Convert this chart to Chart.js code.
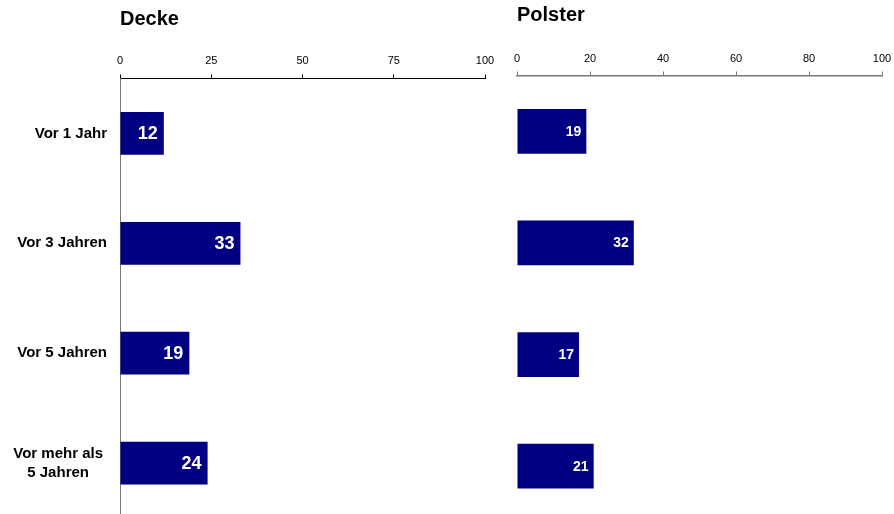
<!DOCTYPE html>
<html>
<head>
<meta charset="utf-8">
<script src="https://cdn.jsdelivr.net/npm/chart.js@4/dist/chart.umd.min.js"></script>
<style>
  html, body { margin: 0; padding: 0; background: #fff; overflow: hidden; }
  body { width: 894px; height: 514px; position: relative; }
  canvas { position: absolute; top: 0; }
  #decke { left: 0; }
  #polster { left: 500px; }
</style>
</head>
<body>
<canvas id="decke" width="500" height="518"></canvas>
<canvas id="polster" width="394" height="522"></canvas>
<script>
// data
var categories = ["Vor 1 Jahr", "Vor 3 Jahren", "Vor 5 Jahren", ["Vor mehr als", "5 Jahren"]];
var deckeValues = [12, 33, 19, 24];
var polsterValues = [19, 32, 17, 21];
var deckeTicks = [0, 25, 50, 75, 100];
var polsterTicks = [0, 20, 40, 60, 80, 100];

var FONT = "'Liberation Sans', Arial, Helvetica, sans-serif";
Chart.defaults.font.family = FONT;
Chart.defaults.color = "#000";

// white value labels at the end of each bar
var barLabels = {
  id: "barLabels",
  afterDatasetsDraw: function (chart, args, opts) {
    var ctx = chart.ctx;
    var meta = chart.getDatasetMeta(0);
    var values = chart.data.datasets[0].data;
    ctx.save();
    ctx.font = "bold " + opts.size + "px " + FONT;
    ctx.fillStyle = "#fff";
    ctx.textAlign = "right";
    ctx.textBaseline = "middle";
    meta.data.forEach(function (bar, i) {
      ctx.fillText(values[i], bar.x - opts.pad, bar.y + 0.5);
    });
    ctx.restore();
  }
};

// category labels, multi line ones centred like in excel
var catLabels = {
  id: "catLabels",
  afterDraw: function (chart, args, opts) {
    if (!opts.show) return;
    var yScale = chart.scales.y;
    var ctx = chart.ctx;
    var right = chart.chartArea.left - 13;
    ctx.save();
    ctx.font = "bold 15px " + FONT;
    ctx.fillStyle = "#000";
    ctx.textBaseline = "middle";
    chart.data.labels.forEach(function (lab, i) {
      var y = yScale.getPixelForTick(i);
      var lines = [].concat(lab);
      if (lines.length === 1) {
        ctx.textAlign = "right";
        ctx.fillText(lines[0], right, y);
      } else {
        var w = Math.max.apply(null, lines.map(function (l) { return ctx.measureText(l).width; }));
        ctx.textAlign = "center";
        lines.forEach(function (l, k) {
          ctx.fillText(l, right - 4 - w / 2, y + (k - (lines.length - 1) / 2) * 19);
        });
      }
    });
    ctx.restore();
  }
};

function makeChart(id, title, values, tickValues, cfg) {
  return new Chart(document.getElementById(id), {
    type: "bar",
    data: {
      labels: categories,
      datasets: [{
        data: values,
        backgroundColor: "#000080",
        borderWidth: 0,
        barPercentage: cfg.barPct,
        categoryPercentage: 1
      }]
    },
    options: {
      indexAxis: "y",
      responsive: false,
      animation: false,
      events: [],
      layout: { padding: { left: cfg.padLeft, right: cfg.padRight, top: 0, bottom: 0 } },
      scales: {
        x: {
          position: "top",
          min: 0,
          max: 100,
          afterBuildTicks: function (s) {
            s.ticks = tickValues.map(function (v) { return { value: v }; });
          },
          afterFit: function (s) {
            s.height = cfg.xHeight;
            s.paddingLeft = 0;
            s.paddingRight = 0;
          },
          grid: { drawOnChartArea: false, drawTicks: true, tickLength: 4, color: cfg.axisColor, lineWidth: 1 },
          border: { display: true, color: cfg.axisColor, width: cfg.axisWidth },
          ticks: { font: { size: 11 }, color: "#000", padding: cfg.tickPad, maxRotation: 0, autoSkip: false }
        },
        y: {
          display: cfg.showY,
          afterFit: function (s) { s.width = cfg.showY ? 120 : 0; },
          grid: { display: false },
          border: { display: true, color: "#777", width: 1 },
          ticks: { display: false }
        }
      },
      plugins: {
        legend: { display: false },
        tooltip: { enabled: false },
        title: {
          display: true,
          text: title,
          align: "start",
          fullSize: false,
          color: "#000",
          font: { size: 20, weight: "bold" },
          padding: { top: cfg.titleTop, bottom: 0 }
        },
        barLabels: { size: cfg.valueSize, pad: cfg.valuePad },
        catLabels: { show: cfg.showY }
      }
    },
    plugins: [barLabels, catLabels]
  });
}

makeChart("decke", "Decke", deckeValues, deckeTicks, {
  barPct: 0.39, padLeft: 0, padRight: 15, xHeight: 47.5, titleTop: 7,
  axisColor: "#000", axisWidth: 1, tickPad: 7, showY: true, valueSize: 18, valuePad: 6
});

makeChart("polster", "Polster", polsterValues, polsterTicks, {
  barPct: 0.4, padLeft: 17, padRight: 12, xHeight: 48, titleTop: 3.5,
  axisColor: "#777", axisWidth: 1.5, tickPad: 6, showY: false, valueSize: 14, valuePad: 5
});
</script>
</body>
</html>
